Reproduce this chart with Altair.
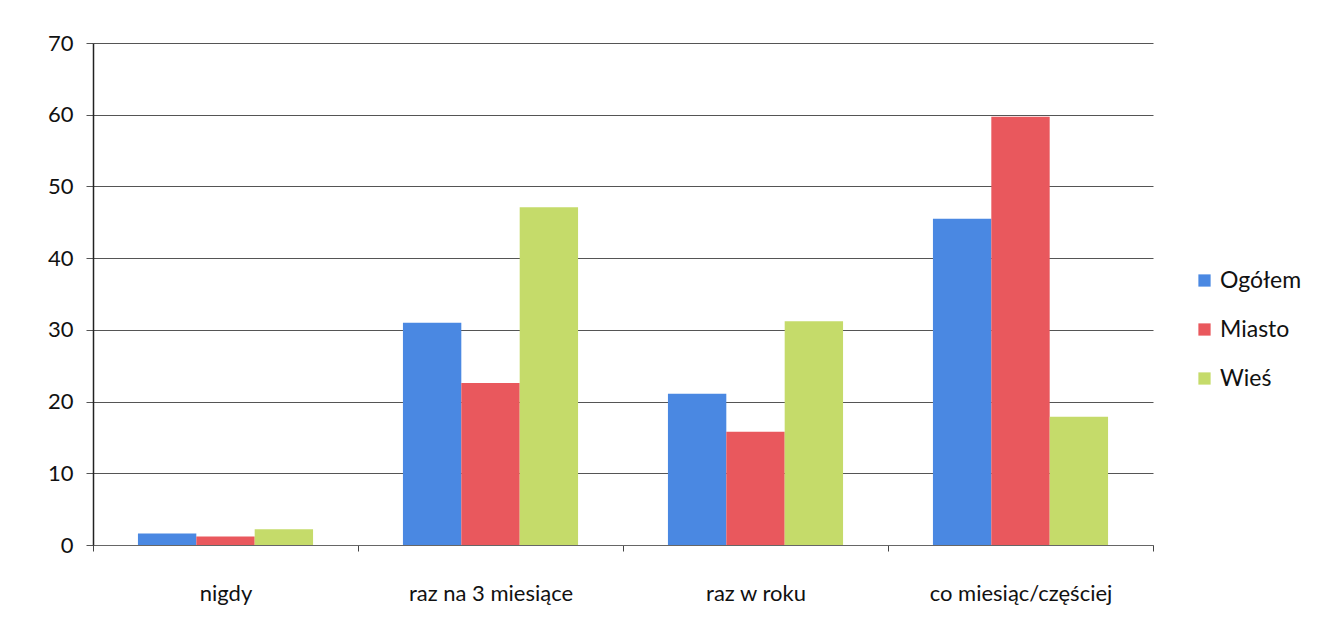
import altair as alt
import pandas as pd

categories = ["nigdy", "raz na 3 miesiące", "raz w roku", "co miesiąc/częściej"]
series = ["Ogółem", "Miasto", "Wieś"]
ogolem = [1.6, 31.0, 21.1, 45.5]
miasto = [1.2, 22.6, 15.8, 59.7]
wies = [2.2, 47.1, 31.2, 17.9]
colors = ["#4a88e2", "#e9585d", "#c5db6a"]

rows = []
for vals, s in zip([ogolem, miasto, wies], series):
    for c, v in zip(categories, vals):
        rows.append({"kategoria": c, "seria": s, "wartosc": v})
df = pd.DataFrame(rows)

font = "Lato"

chart = alt.Chart(df).mark_bar().encode(
    x=alt.X("kategoria:N", sort=categories, title=None,
            scale=alt.Scale(paddingInner=0, paddingOuter=0),
            axis=alt.Axis(labelAngle=0, labelFontSize=22, labelFont=font, labelColor="#111",
                          labelPadding=32, tickBand="extent", tickSize=6, tickColor="#444",
                          domainColor="#666", domainWidth=1, grid=False, labelLimit=400)),
    xOffset=alt.XOffset("seria:N", sort=series,
                        scale=alt.Scale(paddingInner=0, paddingOuter=0.77)),
    y=alt.Y("wartosc:Q", title=None,
            scale=alt.Scale(domain=[0, 70]),
            axis=alt.Axis(values=[0, 10, 20, 30, 40, 50, 60, 70], labelFontSize=22, labelFont=font,
                          labelColor="#111", labelPadding=13, tickSize=7, tickColor="#555",
                          domainColor="#222", domainWidth=1.5,
                          gridColor="#555", gridWidth=1, grid=True)),
    color=alt.Color("seria:N", sort=series,
                    scale=alt.Scale(domain=series, range=colors),
                    legend=alt.Legend(title=None, orient="none", legendX=1100, legendY=226,
                                      symbolType="square", symbolSize=150, symbolStrokeWidth=0,
                                      labelFontSize=23, labelFont=font, labelColor="#111",
                                      rowPadding=25, symbolOffset=0)),
).properties(
    width=1060, height=502,
    background="white",
    padding={"left": 85, "top": 35, "right": 150, "bottom": 70},
    autosize=alt.AutoSizeParams(type="none"),
).configure_view(strokeWidth=0, stroke="transparent")

chart.save("out.html", embed_options={"renderer": "svg", "actions": False})
